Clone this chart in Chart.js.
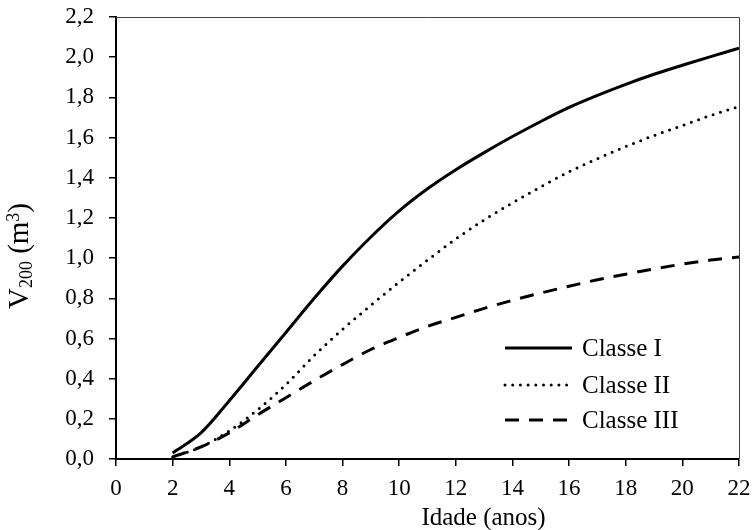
<!DOCTYPE html>
<html>
<head>
<meta charset="utf-8">
<script src="https://cdn.jsdelivr.net/npm/chart.js@4/dist/chart.umd.min.js"></script>
<style>
  html, body { margin: 0; padding: 0; background: #fff; }
  #wrap { width: 753px; height: 530px; }
</style>
</head>
<body>
<div id="wrap"><canvas id="myChart" width="753" height="530"></canvas></div>
<script>
'use strict';
//data
var ages = [2, 3, 4, 5, 6, 7, 8, 9, 10, 11, 12, 13, 14, 15, 16, 17, 18, 19, 20, 21, 22];
var classeI = [0.03, 0.13, 0.29, 0.46, 0.63, 0.80, 0.96, 1.105, 1.235, 1.345, 1.44, 1.525, 1.605, 1.68, 1.75, 1.81, 1.865, 1.915, 1.96, 2.003, 2.045];
var classeII = [0.01, 0.06, 0.14, 0.245, 0.37, 0.515, 0.645, 0.765, 0.88, 0.99, 1.095, 1.19, 1.275, 1.355, 1.43, 1.495, 1.555, 1.61, 1.66, 1.71, 1.755];
var classeIII = [0.01, 0.06, 0.13, 0.22, 0.305, 0.39, 0.47, 0.545, 0.605, 0.66, 0.705, 0.75, 0.79, 0.826, 0.86, 0.892, 0.92, 0.946, 0.97, 0.99, 1.005];
var seriesNames = ['Classe I', 'Classe II', 'Classe III'];
var xTicks = [0, 2, 4, 6, 8, 10, 12, 14, 16, 18, 20, 22];
var yTicks = [0, 0.2, 0.4, 0.6, 0.8, 1.0, 1.2, 1.4, 1.6, 1.8, 2.0, 2.2];
var xTitle = 'Idade (anos)';

var FONT = 'Liberation Serif';

function toPoints(values){
  var pts = [];
  for(var i = 0; i < ages.length; i++){
    pts.push({x: ages[i], y: values[i]});
  }
  return pts;
}

//frame on top and right side
var framePlugin = {
  id: 'frame',
  afterDatasetsDraw: function(chart){
    var a = chart.chartArea;
    var ctx = chart.ctx;
    ctx.save();
    ctx.strokeStyle = '#444';
    ctx.lineWidth = 1;
    ctx.beginPath();
    ctx.moveTo(a.left, a.top + 0.5);
    ctx.lineTo(a.right + 0.5, a.top + 0.5);
    ctx.lineTo(a.right + 0.5, a.bottom);
    ctx.stroke();
    ctx.restore();
  }
};

//legend drawn inside the plot, lower right
var insideLegend = {
  id: 'insideLegend',
  afterDraw: function(chart){
    var a = chart.chartArea;
    var ctx = chart.ctx;
    var rows = [111, 74, 39];
    ctx.save();
    chart.data.datasets.forEach(function(ds, i){
      var y = a.bottom - rows[i];
      ctx.strokeStyle = ds.borderColor;
      ctx.lineWidth = ds.borderWidth;
      ctx.lineCap = ds.borderCapStyle || 'butt';
      ctx.setLineDash(ds.borderDash || []);
      ctx.beginPath();
      ctx.moveTo(a.right - 234, y);
      ctx.lineTo(a.right - 167, y);
      ctx.stroke();
      ctx.setLineDash([]);
      ctx.fillStyle = '#000';
      ctx.font = '25px "' + FONT + '"';
      ctx.textBaseline = 'middle';
      ctx.textAlign = 'left';
      ctx.fillText(ds.label, a.right - 157, y + 1);
    });
    ctx.restore();
  }
};

//axis titles: y with subscript and superscript, x set off to the right
var axisTitles = {
  id: 'axisTitles',
  afterDraw: function(chart){
    var ctx = chart.ctx;
    var parts = [['V', 29, 0], ['200', 18, 3.5], [' (m', 29, 0], ['3', 18, -9.5], [')', 29, 0]];
    ctx.save();
    ctx.fillStyle = '#000';
    ctx.textBaseline = 'alphabetic';
    ctx.translate(28, 256);
    ctx.rotate(-Math.PI / 2);
    var total = 0;
    parts.forEach(function(p){
      ctx.font = p[1] + 'px "' + FONT + '"';
      total += ctx.measureText(p[0]).width;
    });
    var x = -total / 2;
    parts.forEach(function(p){
      ctx.font = p[1] + 'px "' + FONT + '"';
      ctx.fillText(p[0], x, p[2]);
      x += ctx.measureText(p[0]).width;
    });
    ctx.restore();

    ctx.save();
    ctx.fillStyle = '#000';
    ctx.font = '25px "' + FONT + '"';
    ctx.textAlign = 'center';
    ctx.textBaseline = 'alphabetic';
    ctx.fillText(xTitle, 483.5, 525);
    ctx.restore();
  }
};

var ctx = document.getElementById('myChart').getContext('2d');

var lineConfig = {
  type: 'line',
  data: {
    datasets: [
      {
        label: seriesNames[0],
        data: toPoints(classeI),
        borderColor: '#000',
        borderWidth: 3,
        borderCapStyle: 'butt'
      },
      {
        label: seriesNames[1],
        data: toPoints(classeII),
        borderColor: '#000',
        borderWidth: 3,
        borderCapStyle: 'round',
        borderDash: [0, 7.7]
      },
      {
        label: seriesNames[2],
        data: toPoints(classeIII),
        borderColor: '#000',
        borderWidth: 3,
        borderCapStyle: 'butt',
        borderDash: [14, 10]
      }
    ]
  },
  options: {
    responsive: false,
    animation: false,
    cubicInterpolationMode: 'monotone',
    elements: { point: { radius: 0 } },
    layout: { padding: { top: 17, right: 14, left: 0, bottom: 0 } },
    plugins: {
      legend: { display: false },
      tooltip: { enabled: false }
    },
    scales: {
      x: {
        type: 'linear',
        min: 0,
        max: 22,
        afterBuildTicks: function(axis){
          axis.ticks = xTicks.map(function(v){ return {value: v}; });
        },
        afterFit: function(axis){
          axis.height = 71;
          axis.paddingLeft = 0;
          axis.paddingRight = 0;
        },
        border: { color: '#000', width: 2 },
        grid: { drawOnChartArea: false, drawTicks: true, tickLength: 7, color: '#000', lineWidth: 1.5 },
        ticks: {
          color: '#000',
          padding: 9,
          maxRotation: 0,
          font: { family: FONT, size: 23 }
        }
      },
      y: {
        min: 0,
        max: 2.2,
        afterBuildTicks: function(axis){
          axis.ticks = yTicks.map(function(v){ return {value: v}; });
        },
        afterFit: function(axis){
          axis.width = 116;
          axis.paddingTop = 0;
          axis.paddingBottom = 0;
        },
        border: { color: '#000', width: 2 },
        grid: { drawOnChartArea: false, drawTicks: true, tickLength: 7, color: '#000', lineWidth: 1.5 },
        ticks: {
          color: '#000',
          padding: 15,
          font: { family: FONT, size: 23 },
          callback: function(v){ return Number(v).toFixed(1).replace('.', ','); }
        }
      }
    }
  },
  plugins: [framePlugin, insideLegend, axisTitles]
};

new Chart(ctx, lineConfig);
</script>
</body>
</html>
